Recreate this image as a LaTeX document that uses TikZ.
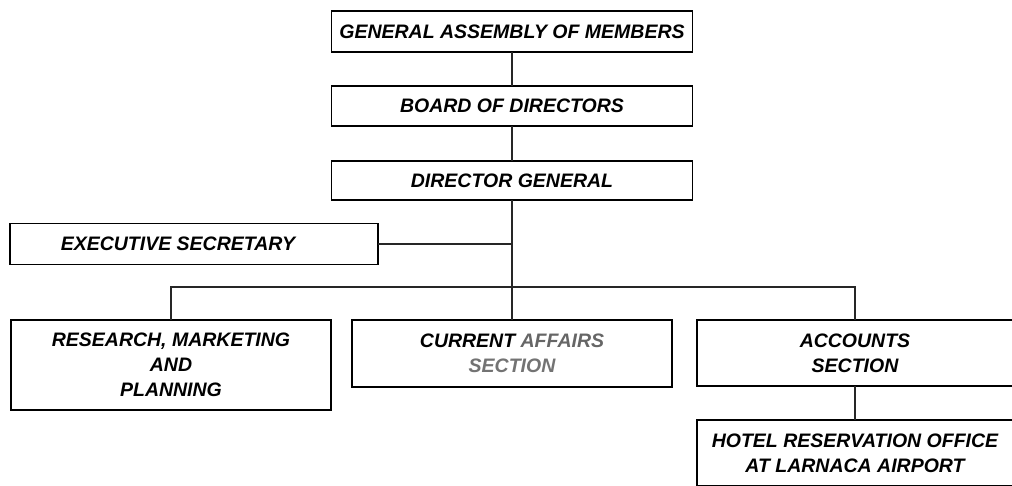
\documentclass[tikz,border=0pt]{standalone}
\usepackage{fontspec}
\setmainfont{Liberation Sans}
\begin{document}
\begin{tikzpicture}[x=1pt,y=-1pt,
  box/.style={draw=black, line width=1.4pt, rectangle, inner sep=0pt, outer sep=0pt,
    align=center, font=\fontsize{19.5}{25}\selectfont\bfseries\itshape, fill=white},
  link/.style={draw=black!85, line width=1.3pt}]
\clip (0,0) rectangle (1012,485);
\fill[white] (0,0) rectangle (1012,485);
\node[box, minimum width=361pt, minimum height=41pt] (ga) at (512,31.5) {GENERAL ASSEMBLY OF MEMBERS};
\node[box, minimum width=361pt, minimum height=40pt] (bod) at (512,106) {BOARD OF DIRECTORS};
\node[box, minimum width=361pt, minimum height=39pt] (dg) at (512,180.5) {DIRECTOR GENERAL};
\node[box, minimum width=368pt, minimum height=41pt] (es) at (194,244) {EXECUTIVE SECRETARY\hspace*{32pt}};
\node[box, minimum width=320pt, minimum height=90pt] (rmp) at (171,365) {RESEARCH, MARKETING\\AND\\PLANNING};
\node[box, minimum width=320pt, minimum height=67pt] (ca) at (512,353.5) {CURRENT \textcolor{black!60}{AFFAIRS}\\\textcolor{black!55}{SECTION}};
\node[box, minimum width=316pt, minimum height=66pt] (acc) at (855,353) {ACCOUNTS\\SECTION};
\node[box, minimum width=316pt, minimum height=66pt] (hro) at (855,453) {HOTEL RESERVATION OFFICE\\AT LARNACA AIRPORT};
\coordinate (bus) at (512,287);
\draw[link] (ga.south) -- (bod.north);
\draw[link] (bod.south) -- (dg.north);
\draw[link] (dg.south) -- (ca.north);
\draw[link] (es.east) -- (es.east -| dg.south);
\draw[link] (rmp.north) |- (bus) -| (acc.north);
\draw[link] (acc.south) -- (hro.north);
\end{tikzpicture}
\end{document}
